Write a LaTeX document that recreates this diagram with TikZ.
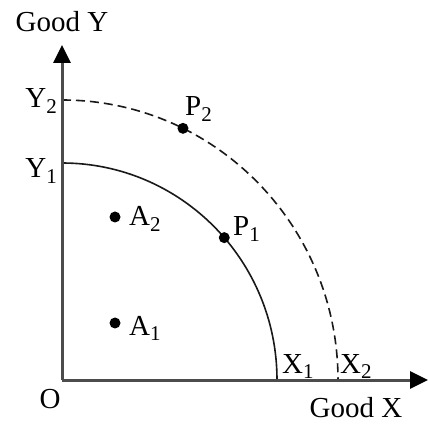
\documentclass[tikz,border=0pt]{standalone}
\usepackage{fontspec}
\setmainfont{Liberation Serif}
\usetikzlibrary{arrows.meta,calc}
\newcommand\mysub[1]{\raisebox{-6pt}{\fontsize{21}{21}\selectfont #1}}
\begin{document}
\begin{tikzpicture}[x=1pt,y=1pt,
  lbl/.style={inner sep=0pt,font=\fontsize{29}{32}\selectfont},
  axis/.style={line width=3pt,draw=black!70,-{Triangle[length=18pt,width=17pt,color=black,fill=black]}},
  ppf/.style={line width=1.6pt,draw=black!90},
  dotpt/.style={circle,fill=black,inner sep=0pt,minimum size=11pt}]
\useasboundingbox (0,0) rectangle (428,423);
\coordinate (O) at (62,43);
\coordinate (ytip) at (62,378);
\coordinate (xtip) at (428,43);
\coordinate (Y1) at (62,260);
\coordinate (Y2) at (62,323);
\coordinate (X1) at (277,43);
\coordinate (X2) at (338,43);
% curves
\draw[ppf] (Y1) arc[start angle=90,end angle=0,x radius=215,y radius=217];
\draw[ppf,dash pattern=on 9pt off 5pt] (Y2) arc[start angle=90,end angle=0,x radius=276,y radius=280];
% axes
\draw[axis] (O) -- (ytip);
\draw[axis] (O) -- (xtip);
% points
\node[dotpt] (p1) at ($(O)+(41:215 and 217)$) {};
\node[dotpt] (p2) at ($(O)+(64:276 and 280)$) {};
\node[dotpt] (a2) at (115,206) {};
\node[dotpt] (a1) at (115,100) {};
% labels
\node[lbl,anchor=base] (gy) at (62,391) {Good Y};
\node[lbl,anchor=base] (gx) at (356,6) {Good X};
\node[lbl,anchor=base] (o) at (50,15) {O};
\node[lbl,anchor=base east] (ly2) at (57,315) {Y\mysub{2}};
\node[lbl,anchor=base east] (ly1) at (57,245) {Y\mysub{1}};
\node[lbl,anchor=base west] (lx1) at (282,50) {X\mysub{1}};
\node[lbl,anchor=base west] (lx2) at (340,50) {X\mysub{2}};
\node[lbl,anchor=base west] (lp1) at (233,187) {P\mysub{1}};
\node[lbl,anchor=base west] (lp2) at (185,307) {P\mysub{2}};
\node[lbl,anchor=base west] (la2) at (129,197) {A\mysub{2}};
\node[lbl,anchor=base west] (la1) at (129,88) {A\mysub{1}};
\end{tikzpicture}
\end{document}
